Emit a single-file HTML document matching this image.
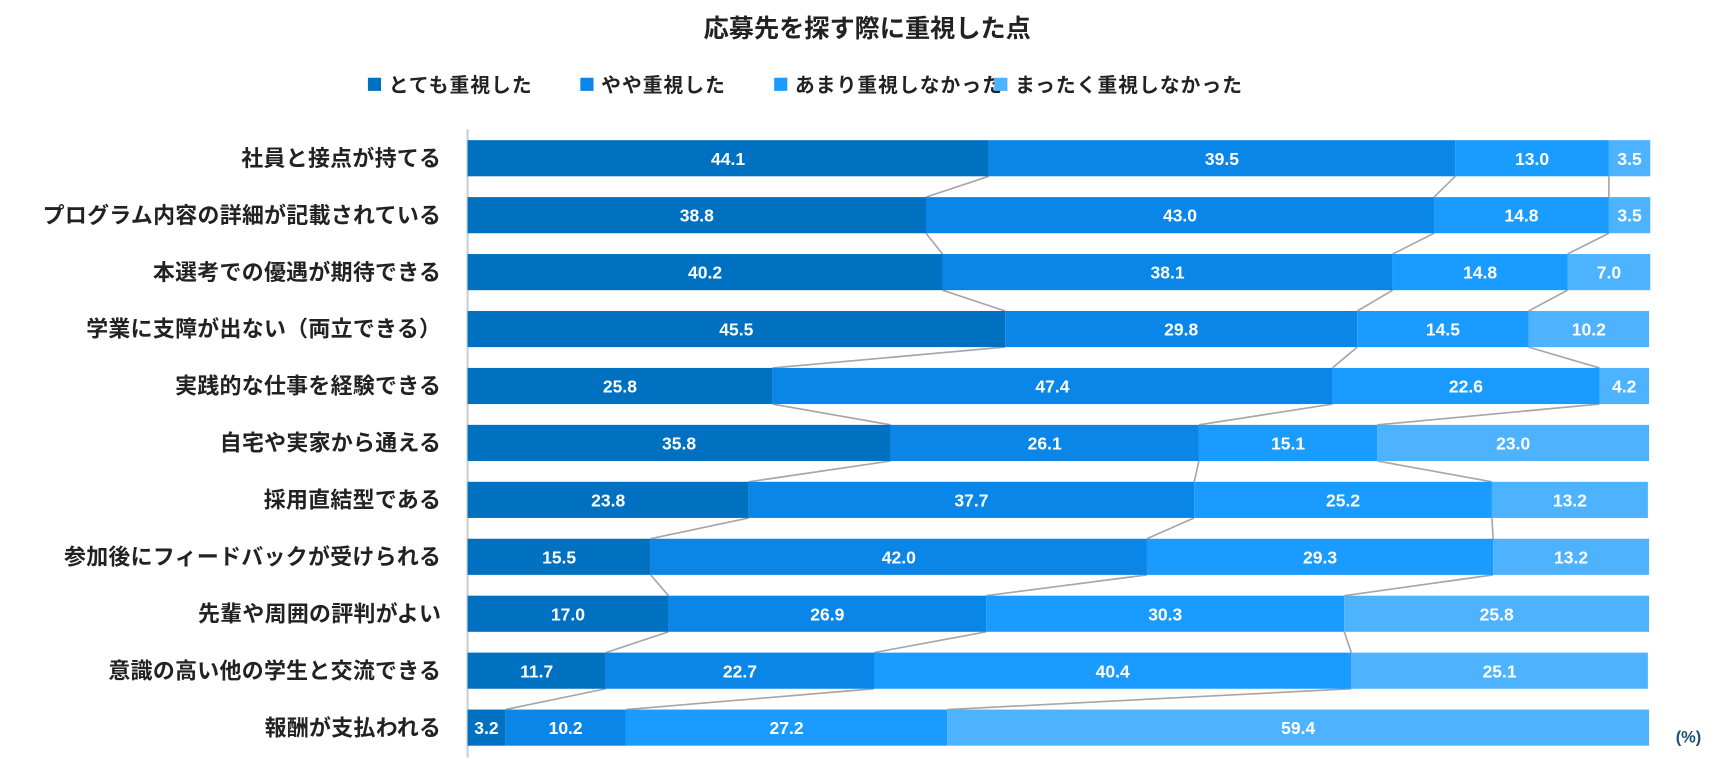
<!DOCTYPE html>
<html><head><meta charset="utf-8"><style>
body{margin:0;background:#fff;width:1717px;height:761px;overflow:hidden;font-family:"Liberation Sans","Noto Sans CJK JP",sans-serif}
</style></head><body>
<svg width="1717" height="761" xmlns="http://www.w3.org/2000/svg" font-family="Liberation Sans, Noto Sans CJK JP, sans-serif">
<g id="c" transform="scale(1.095)">
<text x="792" y="34" text-anchor="middle" font-size="23" font-weight="bold" fill="#222">応募先を探す際に重視した点</text>
<text x="1542" y="678" text-anchor="middle" font-size="15" font-weight="bold" fill="#1f4e79">(%)</text>
</g>
</svg>
<script>
const categories=["社員と接点が持てる","プログラム内容の詳細が記載されている","本選考での優遇が期待できる","学業に支障が出ない（両立できる）","実践的な仕事を経験できる","自宅や実家から通える","採用直結型である","参加後にフィードバックが受けられる","先輩や周囲の評判がよい","意識の高い他の学生と交流できる","報酬が支払われる"];
const seriesNames=["とても重視した","やや重視した","あまり重視しなかった","まったく重視しなかった"];
const s1=[44.1,38.8,40.2,45.5,25.8,35.8,23.8,15.5,17.0,11.7,3.2];
const s2=[39.5,43.0,38.1,29.8,47.4,26.1,37.7,42.0,26.9,22.7,10.2];
const s3=[13.0,14.8,14.8,14.5,22.6,15.1,25.2,29.3,30.3,40.4,27.2];
const s4=[3.5,3.5,7.0,10.2,4.2,23.0,13.2,13.2,25.8,25.1,59.4];
const colors=["#0070c0","#0a86e8","#1a9bff","#4db3ff"];
const svg=document.getElementById('c');const NS="http://www.w3.org/2000/svg";
const x0=427,x1=1506,top0=128,pitch=52,bh=33;
const sx=v=>x0+(x1-x0)*v/100;
const yRow=i=>top0+i*pitch;
function mk(t,a,p){const e=document.createElementNS(NS,t);for(const k in a)e.setAttribute(k,a[k]);(p||svg).appendChild(e);return e;}
const lx=[336,530,707,908];
seriesNames.forEach((n,i)=>{
 const g=mk('g',{});
 
 
 mk('rect',{x:lx[i],y:71,width:12,height:12,fill:colors[i]},g);
 const t=mk('text',{x:lx[i]+19,y:84,'font-size':18,'font-weight':'bold',fill:'#222','letter-spacing':'1'},g);t.textContent=n;
});
const ax=mk('line',{x1:x0,y1:118,x2:x0,y2:692,stroke:'#d0d0d0','stroke-width':2});


const series=[s1,s2,s3,s4];
const cum=categories.map((c,i)=>{let a=[0];let s=0;series.forEach(v=>{s+=v[i];a.push(s);});return a;});
for(let i=0;i<categories.length-1;i++){for(let k=1;k<4;k++){
 const l=mk('line',{x1:sx(cum[i][k]),y1:yRow(i)+bh,x2:sx(cum[i+1][k]),y2:yRow(i+1),stroke:'#a6a6a6','stroke-width':1.5});
 
 
}}
categories.forEach((c,i)=>{
 const y=yRow(i);
 const t=mk('text',{x:403,y:y+bh/2+7,'text-anchor':'end','font-size':20,'font-weight':'bold',fill:'#222','letter-spacing':'0.3'});t.textContent=c;
 
 
 series.forEach((v,k)=>{
  const a=sx(cum[i][k]),b=sx(cum[i][k+1]);
  const r=mk('rect',{x:a,y:y,width:b-a,height:bh,fill:colors[k]});
  
  
  const tt=mk('text',{x:(a+b)/2,y:y+bh/2+6,'text-anchor':'middle','font-size':16,'font-weight':'bold',fill:'#fff'});tt.textContent=v[i].toFixed(1);
  
  
 });
});
</script>
</body></html>
